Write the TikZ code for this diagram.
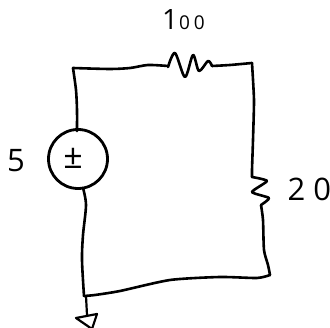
\documentclass[tikz,border=0pt]{standalone}
\usepackage{fontspec}
\setmainfont{Open Sans}
\tikzset{
  ink/.style={draw=black,line width=2.6pt,line cap=round,line join=round},
  digit/.style={inner sep=0pt,outer sep=0pt,text=black},
}
\begin{document}
\begin{tikzpicture}[x=1pt,y=-1pt]
\useasboundingbox (0,0) rectangle (330,328);
% voltage source
\node[ink,circle,minimum size=59pt,inner sep=0pt,line width=2.8pt] (src) at (78,159) {};
\node[digit,font=\fontsize{34}{34}\selectfont] (sign) at (73,158) {±};
% top wire with resistor
\draw[ink] plot[smooth,tension=0.45] coordinates {(77,131) (77,110) (76,90) (73,68)};
\draw[ink] plot[smooth,tension=0.45] coordinates {(73,68) (110,69) (130,68) (148,65) (168,66)};
\draw[ink] plot[smooth,tension=0.5] coordinates {(168,67) (175,53) (185,77) (193,55) (199,71) (208,61) (212,66)};
\draw[ink] plot[smooth,tension=0.4] coordinates {(212,66) (230,65) (252,63)};
% right wire with resistor
\draw[ink] plot[smooth,tension=0.3] coordinates {(252,63) (254,100) (253,140) (252,170) (252,177)};
\draw[ink] plot[smooth,tension=0.35] coordinates {(252,177) (267,181) (252,192) (269,198) (261,205)};
\draw[ink] plot[smooth,tension=0.4] coordinates {(261,205) (263,220) (264,250) (268,265) (270,275)};
% bottom wire
\draw[ink] plot[smooth,tension=0.4] coordinates {(270,275) (257,278) (220,277) (170,280) (120,291) (95,295) (84,296)};
% left wire
\draw[ink] plot[smooth,tension=0.5] coordinates {(83,188) (86,205) (83,235) (82,260) (84,296)};
% ground
\coordinate (gnd) at (87,315);
\draw[ink,line width=2.2pt] (86,296) -- (gnd);
\draw[ink,line width=2.2pt] (76,318) -- (97,314) -- (92,329) -- cycle;
% labels
\node[digit,font=\fontsize{31}{31}\selectfont] (v) at (16,161) {5};
\node[digit,anchor=west] (r1) at (162,20) {\fontsize{28}{28}\selectfont 1\kern1pt\fontsize{19}{19}\selectfont 0\kern4pt 0};
\node[digit,font=\fontsize{31}{31}\selectfont,anchor=east] (r2) at (331,189) {2\kern8pt 0};
\end{tikzpicture}
\end{document}
